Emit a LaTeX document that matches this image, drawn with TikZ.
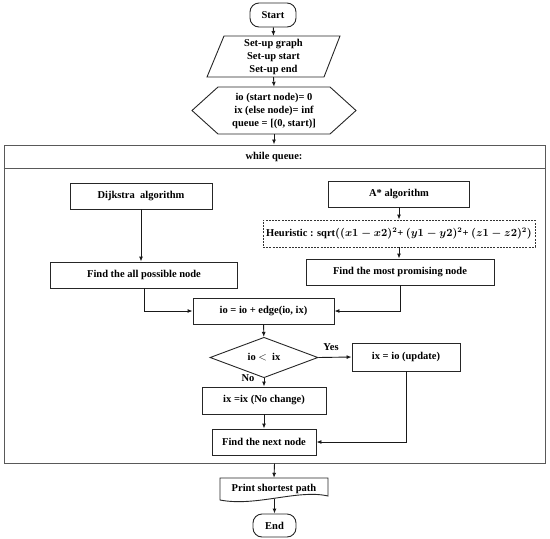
\documentclass[tikz,border=0pt]{standalone}
\usepackage{amsmath}
\usepackage{fontspec}
\setmainfont{Liberation Serif}
\usetikzlibrary{arrows.meta,shapes.geometric}
\begin{document}
\begin{tikzpicture}[x=1pt,y=-1pt,
  every node/.style={font=\fontsize{10.5}{13}\selectfont\bfseries, align=center, inner sep=0pt},
  box/.style={draw=black!85, line width=0.9pt, rectangle},
  ghost/.style={draw=none, rectangle},
  term/.style={draw=black!85, line width=0.9pt, rectangle, rounded corners=9pt},
  dec/.style={draw=black!85, line width=0.9pt, diamond},
  outline/.style={draw=black!85, line width=0.9pt},
  frame/.style={draw=black!65, line width=1pt, rectangle},
  dbox/.style={draw=black!80, line width=0.9pt, dash pattern=on 2pt off 1.2pt, rectangle},
  arr/.style={-{Latex[length=5pt,width=4pt]}, line width=0.9pt, draw=black!90},
  lbl/.style={font=\fontsize{10.5}{11}\selectfont\bfseries}
]
\useasboundingbox (0,0) rectangle (550,539);

% start
\node[term, minimum width=46pt, minimum height=24pt] (start) at (273,15) {Start};

% set-up parallelogram
\node[ghost, minimum width=150pt, minimum height=41pt] (setup) at (273.5,56.5) {Set-up graph\\Set-up start\\Set-up end};
\draw[outline] (224,36) -- (340,36) -- (324,77) -- (207,77) -- cycle;

% init hexagon
\node[ghost, minimum width=164pt, minimum height=47pt] (init) at (274,110.5) {io (start node)= 0\\ix (else node)= inf\\queue = [(0, start)]};
\draw[outline] (192,110.5) -- (218,87) -- (330,87) -- (356,110.5) -- (330,134) -- (218,134) -- cycle;

% loop frame
\node[frame, minimum width=541pt, minimum height=318pt] (loop) at (274.5,304) {};
\draw[draw=black!65, line width=1pt] (loop.west |- 0,168) -- (loop.east |- 0,168);
\node (whileq) at (274,157) {while queue:};

% left branch
\node[box, minimum width=142pt, minimum height=26pt] (dij) at (141,196) {Dijkstra\ \ algorithm};
\node[box, minimum width=187pt, minimum height=26pt] (findall) at (144,275) {Find the all possible node};

% right branch
\node[box, minimum width=141pt, minimum height=26pt] (astar) at (399,194) {A* algorithm};
\node[dbox, minimum width=272pt, minimum height=27pt] (heur) at (399,233.5)
  {Heuristic : sqrt$\boldsymbol{((x1-x2)^{2}}$+ $\boldsymbol{(y1-y2)^{2}}$+ $\boldsymbol{(z1-z2)^{2})}$};
\node[box, minimum width=188pt, minimum height=26pt] (findmost) at (400,272) {Find the most promising node};

% update
\node[box, minimum width=141pt, minimum height=26pt] (upd) at (263.5,311) {io = io + edge(io, ix)};
\node[dec, minimum width=108pt, minimum height=28pt] (cmp) at (264,357.5) {io $<$\ \ ix};
\node[box, minimum width=108pt, minimum height=28pt] (ixio) at (406,357) {ix = io (update)};
\node[box, minimum width=124pt, minimum height=27pt] (nochg) at (264,400.5) {ix =ix\ (No change)};
\node[box, minimum width=104pt, minimum height=26pt] (next) at (264,442) {Find the next node};

% print document shape
\node[ghost, minimum width=108pt, minimum height=22pt] (print) at (274,489) {Print shortest path};
\draw[outline] (220,478) -- (328,478) -- (328,496) .. controls (298,489) and (256,507) .. (220,500) -- cycle;

% end
\node[term, minimum width=43pt, minimum height=23pt] (end) at (274.5,525.5) {End};

% connectors
\draw[arr] (start) -- (273.5,36);
\draw[arr] (273.5,77) -- (init.north);
\draw[arr] (init.south) -- (loop.north -| init.south);
\draw[arr] (dij) -- (dij |- findall.north);
\draw[arr] (astar.south) -- (heur.north);
\draw[arr] (heur.south) -- (findmost.north -| heur.south);
\draw[arr] (findall.south) |- (upd.west);
\draw[arr] (findmost.south) |- (upd.east);
\draw[arr] (upd) -- (cmp);
\draw[arr] (cmp.east) -- (ixio.west);
\node[lbl] (yes) at (331,347) {Yes};
\draw[arr] (cmp.south) -- (nochg.north);
\node[lbl] (no) at (248,378) {No};
\draw[arr] (nochg) -- (next);
\draw[arr] (ixio.south) |- (next.east);
\draw[arr] (loop.south) -- (print.north);
\draw[arr] (274.5,499) -- (end.north);
\end{tikzpicture}
\end{document}
